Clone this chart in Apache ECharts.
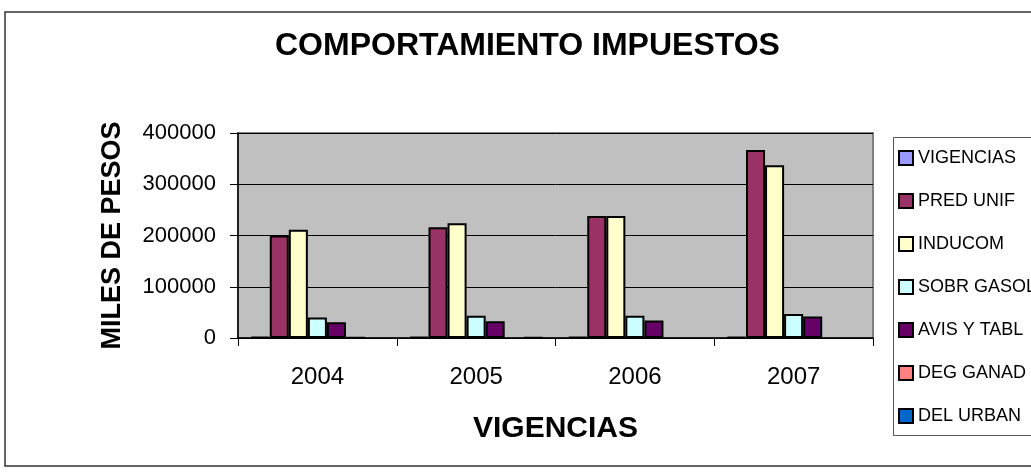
<!DOCTYPE html>
<html>
<head>
<meta charset="utf-8">
<script src="https://cdn.jsdelivr.net/npm/echarts@6/dist/echarts.min.js"></script>
<style>
html,body{margin:0;padding:0;background:#fff;}
#chart{width:1031px;height:475px;}
</style>
</head>
<body>
<div id="chart"></div>
<script>
const categories = ['2004', '2005', '2006', '2007'];
const seriesNames = ['VIGENCIAS', 'PRED UNIF', 'INDUCOM', 'SOBR GASOL', 'AVIS Y TABL', 'DEG GANAD', 'DEL URBAN'];
const vigencias = [2004, 2005, 2006, 2007];
const predUnif = [200000, 216000, 238000, 367000];
const inducom = [211000, 224000, 238000, 337000];
const sobrGasol = [40000, 43500, 43500, 47000];
const avisTabl = [30500, 32500, 34000, 42000];
const degGanad = [500, null, null, null];
const delUrban = [null, 500, null, null];
const yTicks = [0, 100000, 200000, 300000, 400000];
const colors = ['#9999FF', '#993366', '#FFFFCC', '#CCFFFF', '#660066', '#FF8080', '#0066CC'];

const values = [vigencias, predUnif, inducom, sobrGasol, avisTabl, degGanad, delUrban];
const FONT = "'Liberation Sans', Arial, sans-serif";

const chart = echarts.init(document.getElementById('chart'), null, {renderer: 'canvas'});
chart.setOption({
  animation: false,
  backgroundColor: '#ffffff',
  title: {
    text: 'COMPORTAMIENTO IMPUESTOS',
    left: 275,
    top: 30,
    padding: 0,
    textStyle: {fontFamily: FONT, fontSize: 32, fontWeight: 'bold', color: '#000'}
  },
  graphic: [
    {type: 'rect', z: -10, shape: {x: 5, y: 12, width: 1040, height: 454},
     style: {fill: 'none', stroke: '#333', lineWidth: 1.5}},
    {type: 'rect', z: -10, shape: {x: 893.5, y: 137.5, width: 200, height: 298},
     style: {fill: '#fff', stroke: '#555', lineWidth: 1}}
  ],
  legend: {
    orient: 'vertical',
    left: 898,
    top: 149,
    padding: 0,
    itemWidth: 14,
    itemHeight: 14,
    itemGap: 25,
    icon: 'rect',
    data: seriesNames,
    itemStyle: {borderColor: '#000', borderWidth: 2},
    textStyle: {fontFamily: FONT, fontSize: 18, color: '#000', lineHeight: 18}
  },
  grid: {
    left: 238, top: 133, width: 635, height: 205,
    show: true, backgroundColor: '#C0C0C0', borderColor: '#808080', borderWidth: 2
  },
  xAxis: {
    type: 'category',
    data: categories,
    boundaryGap: true,
    name: 'VIGENCIAS',
    nameLocation: 'middle',
    nameGap: 76,
    nameTextStyle: {fontFamily: FONT, fontSize: 30, fontWeight: 'bold', color: '#000'},
    axisLine: {lineStyle: {color: '#000', width: 1.5}},
    axisTick: {show: true, length: 8, lineStyle: {color: '#000', width: 1}},
    axisLabel: {fontFamily: FONT, fontSize: 24, color: '#000', margin: 27, lineHeight: 24}
  },
  yAxis: {
    type: 'value',
    min: yTicks[0],
    max: yTicks[yTicks.length - 1],
    interval: yTicks[1] - yTicks[0],
    name: 'MILES DE PESOS',
    nameLocation: 'middle',
    nameRotate: 90,
    nameGap: 112,
    nameTextStyle: {fontFamily: FONT, fontSize: 27, fontWeight: 'bold', color: '#000'},
    axisLine: {show: true, lineStyle: {color: '#000', width: 1.5}},
    axisTick: {show: true, length: 8, lineStyle: {color: '#000', width: 1}},
    axisLabel: {fontFamily: FONT, fontSize: 22, color: '#000', margin: 22, formatter: v => String(v)},
    splitLine: {show: true, lineStyle: {color: '#000', width: 1}}
  },
  series: seriesNames.map((name, i) => ({
    name: name,
    type: 'bar',
    data: values[i],
    barGap: '0%',
    barCategoryGap: '16%',
    itemStyle: {color: colors[i], borderColor: '#000', borderWidth: 2}
  }))
});
</script>
</body>
</html>
